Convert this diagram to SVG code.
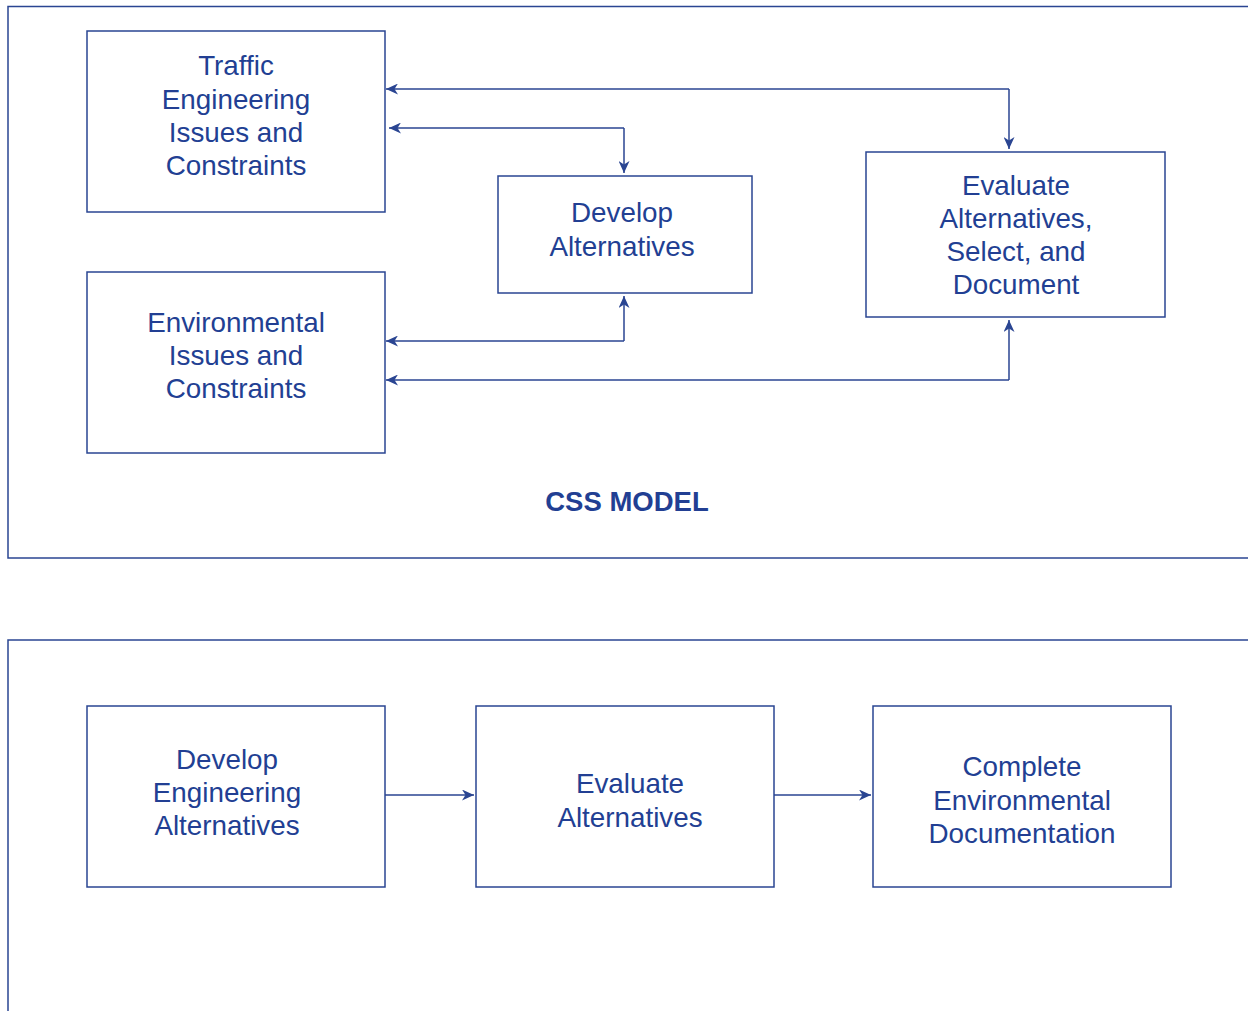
<svg xmlns="http://www.w3.org/2000/svg" width="1248" height="1011" viewBox="0 0 1248 1011">
<style>
.frame{fill:none;stroke:#2a4592;stroke-width:1.5}
.box{fill:#ffffff;stroke:#2a4592;stroke-width:1.5}
.lbl{font-family:"Liberation Sans",Arial,sans-serif;font-size:27.8px;fill:#223f93;text-anchor:middle}
.title{font-family:"Liberation Sans",Arial,sans-serif;font-size:27.5px;font-weight:bold;fill:#223f93;text-anchor:middle}
.con{fill:none;stroke:#2a4592;stroke-width:1.5;marker-end:url(#ah)}
</style>
<defs>
<marker id="ah" markerUnits="userSpaceOnUse" markerWidth="13" markerHeight="11" refX="12" refY="5.5" orient="auto">
<path d="M0,0 L12,5.5 L0,11 L3.5,5.5 Z" fill="#2a4592"/>
</marker>
</defs>
<rect class="frame" x="8" y="6.5" width="1260" height="551.5"/>
<rect class="frame" x="8" y="640" width="1260" height="400"/>
<g id="connectors">
<path class="con" d="M1009,89 L386,89"/>
<path class="con" d="M1009,89 L1009,149"/>
<path class="con" d="M624,128 L389,128"/>
<path class="con" d="M624,128 L624,173"/>
<path class="con" d="M624,341 L386,341"/>
<path class="con" d="M624,341 L624,296"/>
<path class="con" d="M1009,380 L386,380"/>
<path class="con" d="M1009,380 L1009,320"/>
<path class="con" d="M385,795 L474,795"/>
<path class="con" d="M774,795 L871,795"/>
</g>
<g id="traffic">
<rect class="box" x="87" y="31" width="298" height="181"/>
<text class="lbl" x="236" y="75">Traffic</text>
<text class="lbl" x="236" y="108.5">Engineering</text>
<text class="lbl" x="236" y="142">Issues and</text>
<text class="lbl" x="236" y="175">Constraints</text>
</g>
<g id="environmental">
<rect class="box" x="87" y="272" width="298" height="181"/>
<text class="lbl" x="236" y="332">Environmental</text>
<text class="lbl" x="236" y="365">Issues and</text>
<text class="lbl" x="236" y="398">Constraints</text>
</g>
<g id="develop">
<rect class="box" x="498" y="176" width="254" height="117"/>
<text class="lbl" x="622" y="222">Develop</text>
<text class="lbl" x="622" y="256">Alternatives</text>
</g>
<g id="evaluate">
<rect class="box" x="866" y="152" width="299" height="165"/>
<text class="lbl" x="1016" y="194.5">Evaluate</text>
<text class="lbl" x="1016" y="228">Alternatives,</text>
<text class="lbl" x="1016" y="261">Select, and</text>
<text class="lbl" x="1016" y="294">Document</text>
</g>
<text class="title" x="627" y="510.5">CSS MODEL</text>
<g id="dev-eng">
<rect class="box" x="87" y="706" width="298" height="181"/>
<text class="lbl" x="227" y="769">Develop</text>
<text class="lbl" x="227" y="802">Engineering</text>
<text class="lbl" x="227" y="835">Alternatives</text>
</g>
<g id="eval-alt">
<rect class="box" x="476" y="706" width="298" height="181"/>
<text class="lbl" x="630" y="793">Evaluate</text>
<text class="lbl" x="630" y="827">Alternatives</text>
</g>
<g id="complete">
<rect class="box" x="873" y="706" width="298" height="181"/>
<text class="lbl" x="1022" y="776">Complete</text>
<text class="lbl" x="1022" y="810">Environmental</text>
<text class="lbl" x="1022" y="843">Documentation</text>
</g>
</svg>
